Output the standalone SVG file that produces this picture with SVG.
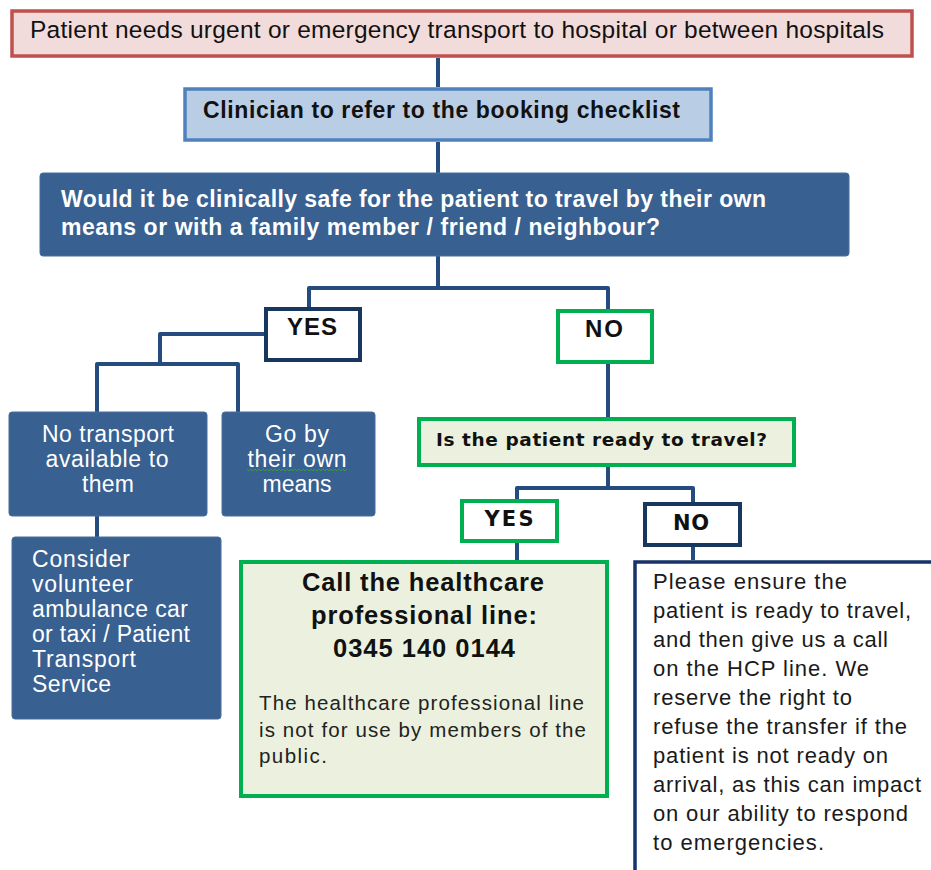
<svg xmlns="http://www.w3.org/2000/svg" width="931" height="870" viewBox="0 0 931 870">
<style>
.t{font-family:"Liberation Sans",Arial,sans-serif}
.b{font-weight:bold}
.w{fill:#ffffff}
.k{fill:#111111}
.v{font-family:"DejaVu Sans",Verdana,sans-serif;font-weight:bold;fill:#111111}
.dark{fill:#386091;stroke:#4a6f9c;stroke-width:1}
.conn{fill:none;stroke:#254c7e;stroke-width:4;stroke-linejoin:round}
</style>
<rect width="931" height="870" fill="#ffffff"/>
<g id="connectors">
<path class="conn" d="M438,58 V87"/>
<path class="conn" d="M438,142 V173"/>
<path class="conn" d="M438,256 V288"/>
<path class="conn" d="M309,308 V288 H608 V309"/>
<path class="conn" d="M264,334 H160 V364"/>
<path class="conn" d="M97,412 V364 H238 V412"/>
<path class="conn" d="M97,516 V537"/>
<path class="conn" d="M608,364 V417"/>
<path class="conn" d="M608,467 V488"/>
<path class="conn" d="M517,499 V488 H693 V502"/>
<path class="conn" d="M517,543 V560"/>
<path class="conn" d="M693,547 V560"/>
</g>
<g id="start">
<rect x="12" y="11" width="900" height="45" fill="#f2dcdb" stroke="#c0504d" stroke-width="3.5"/>
<text class="t k" x="30" y="38" font-size="24.5" textLength="854">Patient needs urgent or emergency transport to hospital or between hospitals</text>
</g>
<g id="clinician">
<rect x="185" y="89" width="526" height="51" fill="#b9cde5" stroke="#4f81bd" stroke-width="3.5"/>
<text class="t b k" x="203" y="118" font-size="23" textLength="477">Clinician to refer to the booking checklist</text>
</g>
<g id="safe">
<rect class="dark" x="40" y="173" width="809" height="83" rx="3"/>
<text class="t b w" x="61" y="207" font-size="23" textLength="705">Would it be clinically safe for the patient to travel by their own</text>
<text class="t b w" x="61" y="235" font-size="23" textLength="599">means or with a family member / friend / neighbour?</text>
</g>
<g id="yes1">
<rect x="266" y="309" width="94" height="51" fill="#ffffff" stroke="#17375e" stroke-width="4"/>
<text class="t b k" x="312" y="335" font-size="24" text-anchor="middle" textLength="50">YES</text>
</g>
<g id="no1">
<rect x="558" y="311" width="94" height="51" fill="#ffffff" stroke="#00b050" stroke-width="4"/>
<text class="t b k" x="604" y="337" font-size="24" text-anchor="middle" textLength="38">NO</text>
</g>
<g id="notransport">
<rect class="dark" x="9" y="412" width="198" height="104" rx="3"/>
<text class="t w" x="108" y="442" font-size="23" text-anchor="middle" textLength="132">No transport</text>
<text class="t w" x="107" y="467" font-size="23" text-anchor="middle" textLength="123">available  to</text>
<text class="t w" x="108" y="492" font-size="23" text-anchor="middle" textLength="52">them</text>
</g>
<g id="goby">
<rect class="dark" x="222" y="412" width="153" height="104" rx="3"/>
<text class="t w" x="297" y="442" font-size="23" text-anchor="middle" textLength="64">Go by</text>
<text class="t w" x="297" y="467" font-size="23" text-anchor="middle" textLength="99">their own</text>
<text class="t w" x="297" y="492" font-size="23" text-anchor="middle" textLength="69">means</text>
<path d="M247,469 l2,2 l2,-2 l2,2 l2,-2 l2,2 l2,-2 l2,2 l2,-2 l2,2 l2,-2 l2,2 l2,-2 l2,2 l2,-2 l2,2 l2,-2 l2,2 l2,-2 l2,2 l2,-2 l2,2 l2,-2 l2,2 l2,-2 l2,2 l2,-2 l2,2 l2,-2 l2,2 l2,-2 l2,2 l2,-2 l2,2 l2,-2 l2,2 l2,-2 l2,2 l2,-2 l2,2 l2,-2 l2,2 l2,-2 l2,2 l2,-2 l2,2 l2,-2 l2,2 l2,-2 l2,2 l2,-2" fill="none" stroke="#2f9a3a" stroke-width="1"/>
</g>
<g id="consider">
<rect class="dark" x="12" y="537" width="209" height="182" rx="3"/>
<text class="t w" x="32" y="567" font-size="23" textLength="98">Consider</text>
<text class="t w" x="32" y="592" font-size="23" textLength="101">volunteer</text>
<text class="t w" x="32" y="617" font-size="23" textLength="156">ambulance car</text>
<text class="t w" x="32" y="642" font-size="23" textLength="158">or taxi / Patient</text>
<text class="t w" x="32" y="667" font-size="23" textLength="104">Transport</text>
<text class="t w" x="32" y="692" font-size="23" textLength="79">Service</text>
</g>
<g id="ready">
<rect x="419" y="419" width="375" height="46" fill="#ebf1de" stroke="#00b050" stroke-width="4"/>
<text class="v" x="436" y="446" font-size="18.5" textLength="331">Is the patient ready to travel?</text>
</g>
<g id="yes2">
<rect x="462" y="501" width="95" height="40" fill="#ffffff" stroke="#00b050" stroke-width="4"/>
<text class="v" x="509" y="526" font-size="21" text-anchor="middle" textLength="49">YES</text>
</g>
<g id="no2">
<rect x="645" y="504" width="95" height="41" fill="#ffffff" stroke="#17375e" stroke-width="4"/>
<text class="v" x="691" y="530" font-size="21" text-anchor="middle" textLength="36">NO</text>
</g>
<g id="call">
<rect x="241" y="562" width="366" height="234" fill="#ebf1de" stroke="#00b050" stroke-width="4"/>
<text class="t b k" x="423" y="591" font-size="25.5" text-anchor="middle" textLength="242">Call the healthcare</text>
<text class="t b k" x="424" y="624" font-size="25.5" text-anchor="middle" textLength="226">professional line:</text>
<text class="t b k" x="424" y="657" font-size="25.5" text-anchor="middle" textLength="182">0345 140 0144</text>
<text class="t" x="259" y="710" font-size="20.5" fill="#222222" textLength="325">The  healthcare  professional line</text>
<text class="t" x="259" y="737" font-size="20.5" fill="#222222" textLength="327">is not for use by members of the</text>
<text class="t" x="259" y="763" font-size="20.5" fill="#222222" textLength="68">public.</text>
</g>
<g id="ensure">
<rect x="635" y="562" width="400" height="400" fill="#ffffff" stroke="#17336a" stroke-width="3.5"/>
<text class="t" fill="#1a1a1a" font-size="22" x="653" y="589" textLength="194">Please ensure the</text>
<text class="t" fill="#1a1a1a" font-size="22" x="653" y="618" textLength="258">patient is ready to travel,</text>
<text class="t" fill="#1a1a1a" font-size="22" x="653" y="647" textLength="235">and then give us a call</text>
<text class="t" fill="#1a1a1a" font-size="22" x="653" y="676" textLength="216">on the HCP line. We</text>
<text class="t" fill="#1a1a1a" font-size="22" x="653" y="705" textLength="199">reserve the right to</text>
<text class="t" fill="#1a1a1a" font-size="22" x="653" y="734" textLength="254">refuse the transfer if the</text>
<text class="t" fill="#1a1a1a" font-size="22" x="653" y="763" textLength="235">patient is not ready on</text>
<text class="t" fill="#1a1a1a" font-size="22" x="653" y="792" textLength="268">arrival, as this can impact</text>
<text class="t" fill="#1a1a1a" font-size="22" x="653" y="821" textLength="255">on our ability to respond</text>
<text class="t" fill="#1a1a1a" font-size="22" x="653" y="850" textLength="171">to emergencies.</text>
</g>
</svg>
